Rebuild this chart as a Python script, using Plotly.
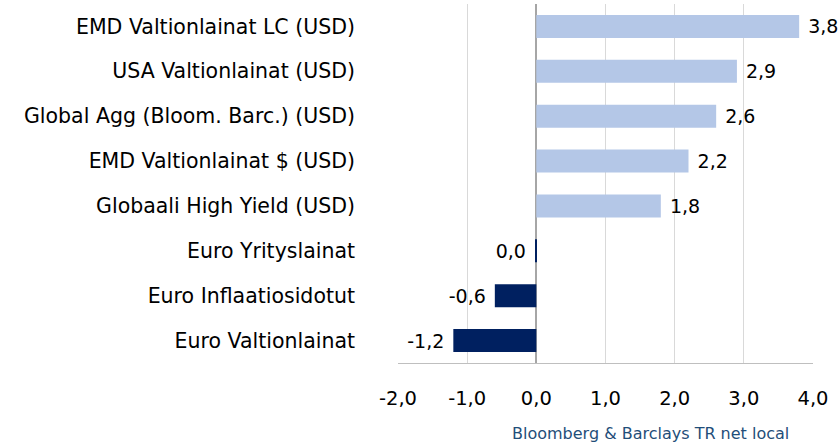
import plotly.graph_objects as go

categories = [
    "EMD Valtionlainat LC (USD)",
    "USA Valtionlainat (USD)",
    "Global Agg (Bloom. Barc.) (USD)",
    "EMD Valtionlainat $ (USD)",
    "Globaali High Yield (USD)",
    "Euro Yrityslainat",
    "Euro Inflaatiosidotut",
    "Euro Valtionlainat",
]
values = [3.8, 2.9, 2.6, 2.2, 1.8, -0.01, -0.6, -1.2]
labels = ["3,8", "2,9", "2,6", "2,2", "1,8", "0,0", "-0,6", "-1,2"]
tick_vals = [-2, -1, 0, 1, 2, 3, 4]
tick_text = ["-2,0", "-1,0", "0,0", "1,0", "2,0", "3,0", "4,0"]

POS = "#B4C7E7"
NEG = "#002060"
colors = [POS if v > 0 else NEG for v in values]
NBSP = "\u00a0"
padded = [NBSP + t if v > 0 else t + NBSP for t, v in zip(labels, values)]

FONT = "DejaVu Sans"

fig = go.Figure(go.Bar(
    x=values,
    y=categories,
    orientation="h",
    marker=dict(color=colors, line=dict(width=0)),
    text=padded,
    textposition="outside",
    textfont=dict(family=FONT, size=19, color="#000000"),
    cliponaxis=False,
    width=0.51,
))

fig.update_layout(
    width=838, height=444,
    margin=dict(l=398, r=25, t=4, b=81),
    plot_bgcolor="white", paper_bgcolor="white",
    showlegend=False,
    font=dict(family=FONT, size=19, color="#000000"),
    bargap=0.49,
    annotations=[dict(
        text="Bloomberg & Barclays TR net local",
        xref="paper", yref="paper", x=0.948, y=-0.195,
        xanchor="right", yanchor="middle", showarrow=False,
        font=dict(family=FONT, size=16, color="#1F4E79"),
    )],
)

fig.update_xaxes(
    range=[-2, 4], tickvals=tick_vals, ticktext=tick_text,
    showgrid=True, gridcolor="#D9D9D9", gridwidth=1,
    zeroline=True, zerolinecolor="#A6A6A6", zerolinewidth=1.5,
    showline=True, linecolor="#BFBFBF", linewidth=1,
    ticks="", ticklabelstandoff=18,
    tickfont=dict(family=FONT, size=19.5, color="#000000"),
    fixedrange=True,
)
fig.update_yaxes(
    categoryorder="array", categoryarray=categories[::-1],
    showgrid=False, zeroline=False, showline=False,
    ticks="", ticklabelstandoff=42,
    tickfont=dict(family=FONT, size=20.5, color="#000000"),
    fixedrange=True,
)

fig.write_html("out.html", config={"displayModeBar": False},
               post_script="document.body.style.margin='0';")
